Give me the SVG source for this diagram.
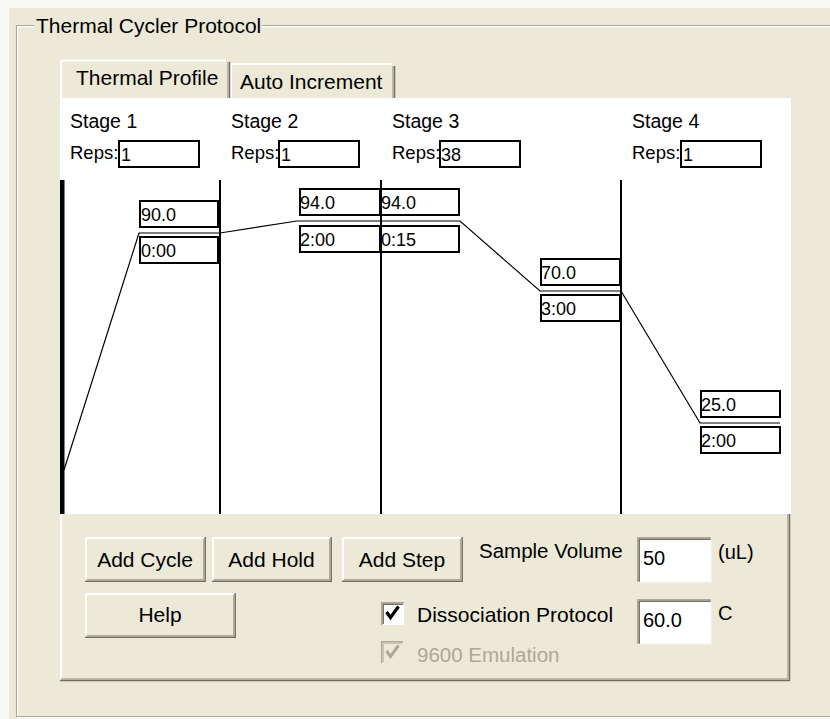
<svg xmlns="http://www.w3.org/2000/svg" width="830" height="719" viewBox="0 0 830 719">
<style>
.t{font-family:"Liberation Sans",Arial,sans-serif;fill:#000}
.lbl{font-size:19.5px}
.reps{font-size:18.5px}
.val{font-size:18px}
.btn{font-size:21px;text-anchor:middle}
.box{fill:#fff;stroke:#000;stroke-width:2}
.vl{stroke:#000;stroke-width:2}
.prof{stroke:#000;stroke-width:1.2;fill:none}
.hi{stroke:#fff;stroke-width:2;fill:none}
.sh1{stroke:#716F64;stroke-width:1.5;fill:none}
.sh2{stroke:#ACA899;stroke-width:1.5;fill:none}
.face{fill:#ECE9D8}
</style>
<rect x="0" y="0" width="830" height="719" fill="#F9F9F6"/>
<rect x="9" y="8" width="821" height="711" fill="#ECE9D8"/>

<g id="groupbox">
<path d="M34,25.5 H16.5 V716.5 H830 M262,25.5 H830" stroke="#ACA899" stroke-width="1.2" fill="none"/>
<path d="M34,26.7 H17.7 V715.3 M262,26.7 H830 M17,717.6 H830" stroke="#fff" stroke-width="1.2" fill="none"/>
<text class="t" x="36" y="33" font-size="21">Thermal Cycler Protocol</text>
</g>

<g id="tabs">
<path d="M231,98 V64 H392 Q394.5,64 394.5,66 V98 Z" class="face"/>
<path d="M231,98 V64 H392" class="hi"/>
<path d="M394.5,66 V98" class="sh1"/>
<path d="M393,66 V98" class="sh2"/>
<text class="t" x="240" y="89" font-size="21">Auto Increment</text>
<path d="M60,99 V63 Q60,59.5 64,59.5 H226 Q229,59.5 229,62 V99 Z" class="face"/>
<path d="M61,99 V63 Q61,60.5 64,60.5 H226" class="hi"/>
<path d="M229.5,62 V98" class="sh1"/>
<path d="M228,62 V98" class="sh2"/>
<text class="t" x="76" y="85" font-size="21">Thermal Profile</text>
</g>

<g id="page">
<rect x="60" y="98" width="731" height="416" fill="#fff"/>
<rect x="60" y="514" width="730" height="167" class="face"/>
<path d="M61,514 V680" class="hi"/>
<path d="M60,680.5 H790 M789.5,514 V681" class="sh1"/>
<path d="M61,679 H788 M788,514 V679" class="sh2"/>
</g>

<g id="stage-lines">
<rect x="60" y="180" width="4.5" height="334" fill="#000"/>
<line class="vl" x1="220" y1="180" x2="220" y2="514"/>
<line class="vl" x1="381" y1="180" x2="381" y2="514"/>
<line class="vl" x1="621" y1="180" x2="621" y2="514"/>
</g>

<g id="connectors">
<polyline class="prof" points="64,470 139,233 220,233 297,221 381,221 460,221 540,291 621,291 700,423 780,423"/>
</g>

<g id="stage1">
<text class="t lbl" x="70" y="128">Stage 1</text>
<text class="t reps" x="70" y="159">Reps:</text>
<rect class="box" x="119" y="141" width="80" height="26"/>
<text class="t val" x="121" y="161">1</text>
<rect class="box" x="140" y="201" width="78" height="26"/>
<text class="t val" x="141" y="221">90.0</text>
<rect class="box" x="140" y="237" width="78" height="26"/>
<text class="t val" x="141" y="257">0:00</text>
</g>

<g id="stage2">
<text class="t lbl" x="231" y="128">Stage 2</text>
<text class="t reps" x="231" y="159">Reps:</text>
<rect class="box" x="279" y="141" width="80" height="26"/>
<text class="t val" x="281" y="161">1</text>
<rect class="box" x="300" y="189" width="80" height="26"/>
<text class="t val" x="300" y="209">94.0</text>
<rect class="box" x="300" y="226" width="80" height="26"/>
<text class="t val" x="300" y="246">2:00</text>
</g>

<g id="stage3">
<text class="t lbl" x="392" y="128">Stage 3</text>
<text class="t reps" x="392" y="159">Reps:</text>
<rect class="box" x="440" y="141" width="80" height="26"/>
<text class="t val" x="441" y="161">38</text>
<rect class="box" x="381" y="189" width="78" height="26"/>
<text class="t val" x="381" y="209">94.0</text>
<rect class="box" x="381" y="226" width="78" height="26"/>
<text class="t val" x="381" y="246">0:15</text>
<rect class="box" x="541" y="259" width="79" height="26"/>
<text class="t val" x="541" y="279">70.0</text>
<rect class="box" x="541" y="295" width="79" height="26"/>
<text class="t val" x="541" y="315">3:00</text>
</g>

<g id="stage4">
<text class="t lbl" x="632" y="128">Stage 4</text>
<text class="t reps" x="632" y="159">Reps:</text>
<rect class="box" x="681" y="141" width="80" height="26"/>
<text class="t val" x="683" y="161">1</text>
<rect class="box" x="701" y="391" width="79" height="26"/>
<text class="t val" x="701" y="411">25.0</text>
<rect class="box" x="701" y="427" width="79" height="26"/>
<text class="t val" x="701" y="447">2:00</text>
</g>

<g id="btn-add-cycle">
<rect x="85" y="537" width="120" height="45" class="face"/>
<path d="M86,581 V538 H204" class="hi"/>
<path d="M85,581.2 H205.2 V537" class="sh1"/>
<path d="M87,579.8 H203.8 V539" class="sh2"/>
<text class="t btn" x="145" y="567">Add Cycle</text>
</g>
<g id="btn-add-hold">
<rect x="212" y="537" width="119" height="45" class="face"/>
<path d="M213,581 V538 H330" class="hi"/>
<path d="M212,581.2 H331.2 V537" class="sh1"/>
<path d="M214,579.8 H329.8 V539" class="sh2"/>
<text class="t btn" x="271.5" y="567">Add Hold</text>
</g>
<g id="btn-add-step">
<rect x="342" y="537" width="120" height="45" class="face"/>
<path d="M343,581 V538 H461" class="hi"/>
<path d="M342,581.2 H462.2 V537" class="sh1"/>
<path d="M344,579.8 H460.8 V539" class="sh2"/>
<text class="t btn" x="402" y="567">Add Step</text>
</g>
<g id="btn-help">
<rect x="85" y="593" width="150" height="45" class="face"/>
<path d="M86,637 V594 H234" class="hi"/>
<path d="M85,637.2 H235.2 V593" class="sh1"/>
<path d="M87,635.8 H233.8 V595" class="sh2"/>
<text class="t btn" x="160" y="622">Help</text>
</g>

<g id="sample-volume">
<text class="t" x="479" y="558" font-size="20.5">Sample Volume</text>
<rect x="637" y="537" width="75" height="46" fill="#fff"/>
<path d="M637.7,583 V537.7 H712" stroke="#ACA899" stroke-width="1.5" fill="none"/>
<path d="M639.2,582 V539.2 H711" stroke="#716F64" stroke-width="1.5" fill="none"/>
<path d="M637,582.5 H711.5 V537" stroke="#F1EFE2" stroke-width="1.5" fill="none"/>
<text class="t" x="643" y="565" font-size="20">50</text>
<text class="t" x="718" y="559" font-size="20">(uL)</text>
</g>

<g id="dissociation">
<rect x="381" y="602" width="23" height="23" fill="#fff"/>
<path d="M381.7,625 V602.7 H404" stroke="#ACA899" stroke-width="1.5" fill="none"/>
<path d="M383.2,624 V604.2 H403" stroke="#716F64" stroke-width="1.5" fill="none"/>
<path d="M386.5,612 L390.5,617.5 L398.5,606.5" stroke="#000" stroke-width="3.2" fill="none"/>
<text class="t" x="417" y="622" font-size="21">Dissociation Protocol</text>
<rect x="637" y="599" width="75" height="46" fill="#fff"/>
<path d="M637.7,645 V599.7 H712" stroke="#ACA899" stroke-width="1.5" fill="none"/>
<path d="M639.2,644 V601.2 H711" stroke="#716F64" stroke-width="1.5" fill="none"/>
<path d="M637,644.5 H711.5 V599" stroke="#F1EFE2" stroke-width="1.5" fill="none"/>
<text class="t" x="643" y="627" font-size="20">60.0</text>
<text class="t" x="718" y="620" font-size="20">C</text>
</g>

<g id="emulation">
<rect x="381" y="641" width="22" height="22" fill="#ECE9D8"/>
<path d="M381.7,663 V641.7 H403" stroke="#ACA899" stroke-width="1.5" fill="none"/>
<path d="M383.2,662 V643.2 H402" stroke="#C5C2B2" stroke-width="1.5" fill="none"/>
<path d="M386.5,651 L390.5,656.5 L398.5,645.5" stroke="#ACA899" stroke-width="3" fill="none"/>
<text x="417" y="662" font-size="20.5" font-family="Liberation Sans, Arial, sans-serif" fill="#ACA899">9600 Emulation</text>
</g>
</svg>
